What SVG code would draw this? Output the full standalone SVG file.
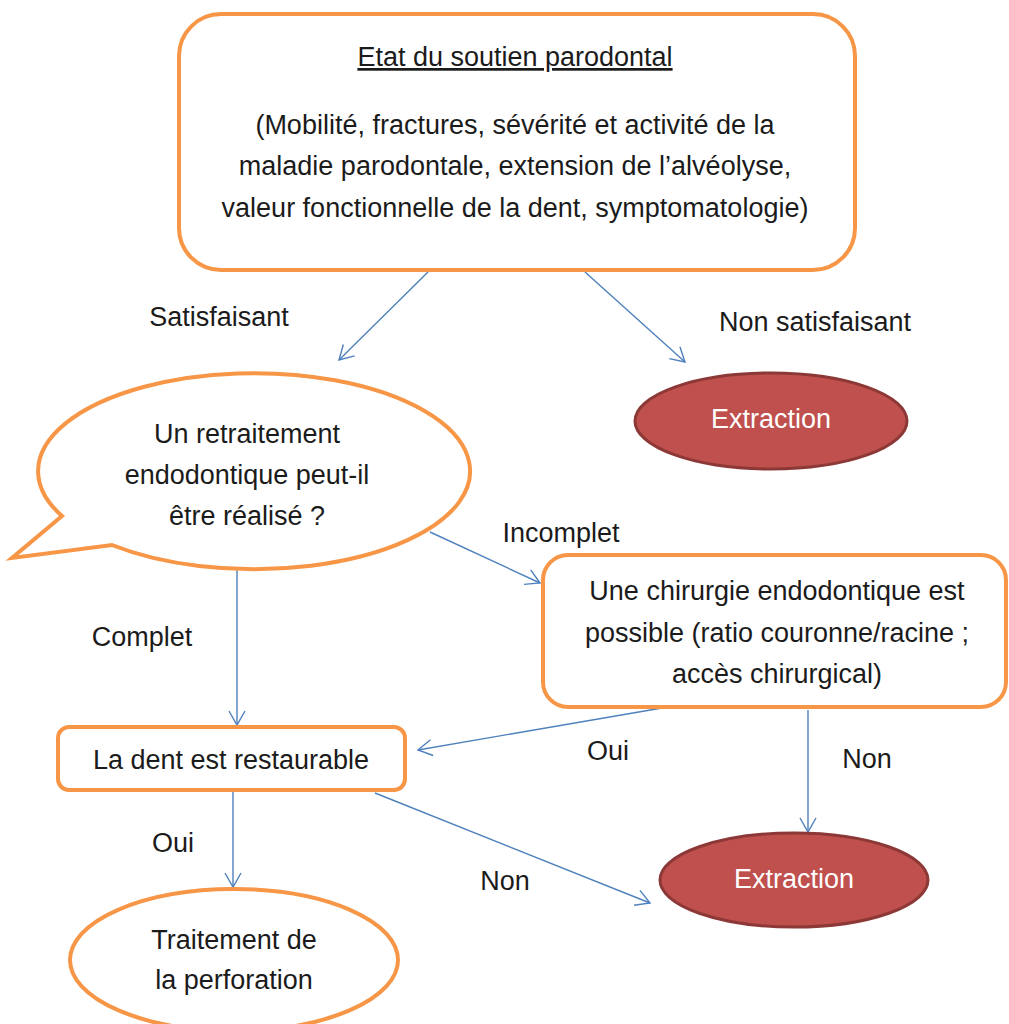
<svg xmlns="http://www.w3.org/2000/svg" width="1009" height="1024" viewBox="0 0 1009 1024">
<defs>
<style>
.t{font-family:"Liberation Sans",Arial,sans-serif;font-size:27px;fill:#1b1b1b;text-anchor:middle;}
.w{fill:#ffffff;}
.box{fill:#ffffff;stroke:#F79646;stroke-width:4;}
.red{fill:#C0504D;stroke:#8C3836;stroke-width:3;}
.c{stroke:#4F81BD;stroke-width:1.4;fill:none;marker-end:url(#ah);}
</style>
<marker id="ah" markerUnits="userSpaceOnUse" markerWidth="20" markerHeight="20" viewBox="-16 -10 20 20" refX="0" refY="0" orient="auto">
<path d="M-14,-8 L0,0 L-14,8" fill="none" stroke="#4F81BD" stroke-width="1.4"/>
</marker>
</defs>
<rect width="1009" height="1024" fill="#ffffff"/>

<g id="connectors">
<line class="c" x1="428" y1="272" x2="339" y2="360"/>
<line class="c" x1="585" y1="272" x2="685" y2="362"/>
<line class="c" x1="430" y1="532" x2="540" y2="583"/>
<line class="c" x1="237" y1="570" x2="237" y2="725"/>
<line class="c" x1="662" y1="708" x2="418" y2="750"/>
<line class="c" x1="808" y1="710" x2="808" y2="832"/>
<line class="c" x1="233" y1="790" x2="233" y2="887"/>
<line class="c" x1="375" y1="793" x2="650" y2="903"/>
</g>

<g id="labels">
<text class="t" x="219" y="326">Satisfaisant</text>
<text class="t" x="815" y="331">Non satisfaisant</text>
<text class="t" x="561" y="542">Incomplet</text>
<text class="t" x="142" y="646">Complet</text>
<text class="t" x="608" y="760">Oui</text>
<text class="t" x="867" y="768">Non</text>
<text class="t" x="173" y="852">Oui</text>
<text class="t" x="505" y="890">Non</text>
</g>

<g id="n-soutien">
<rect class="box" x="179" y="14" width="676" height="256" rx="42" ry="42"/>
<text class="t" x="515" y="66" text-decoration="underline">Etat du soutien parodontal</text>
<text class="t" x="515" y="134">(Mobilité, fractures, sévérité et activité de la</text>
<text class="t" x="515" y="175">maladie parodontale, extension de l’alvéolyse,</text>
<text class="t" x="515" y="217">valeur fonctionnelle de la dent, symptomatologie)</text>
</g>

<g id="n-extraction1">
<ellipse class="red" cx="771" cy="421" rx="136" ry="48"/>
<text class="t w" x="771" y="428">Extraction</text>
</g>

<g id="n-retraitement">
<path class="box" d="M62,516 L12,558 L112,545 A216,98 0 1,0 62,516 Z" stroke-linejoin="miter"/>
<text class="t" x="247" y="443">Un retraitement</text>
<text class="t" x="247" y="484">endodontique peut-il</text>
<text class="t" x="247" y="525">être réalisé ?</text>
</g>

<g id="n-chirurgie">
<rect class="box" x="543" y="555" width="463" height="152" rx="25" ry="25"/>
<text class="t" x="777" y="600">Une chirurgie endodontique est</text>
<text class="t" x="777" y="642">possible (ratio couronne/racine ;</text>
<text class="t" x="777" y="683">accès chirurgical)</text>
</g>

<g id="n-restaurable">
<rect class="box" x="58" y="727" width="347" height="63" rx="11" ry="11"/>
<text class="t" x="231" y="769">La dent est restaurable</text>
</g>

<g id="n-extraction2">
<ellipse class="red" cx="794" cy="880" rx="134" ry="47"/>
<text class="t w" x="794" y="888">Extraction</text>
</g>

<g id="n-traitement">
<ellipse class="box" cx="234" cy="960" rx="164" ry="71"/>
<text class="t" x="234" y="949">Traitement de</text>
<text class="t" x="234" y="989">la perforation</text>
</g>
</svg>
